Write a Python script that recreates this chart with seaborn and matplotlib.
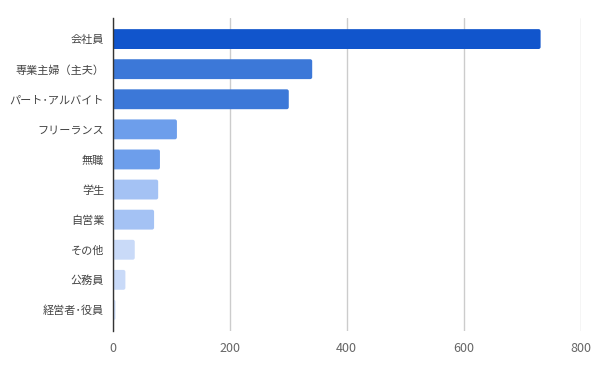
import matplotlib
matplotlib.use("Agg")
import pandas as pd
import seaborn as sns
from matplotlib import pyplot as plt
from matplotlib.patches import FancyBboxPatch

categories = ["会社員", "専業主婦（主夫）", "パート･アルバイト", "フリーランス", "無職",
              "学生", "自営業", "その他", "公務員", "経営者･役員"]
values = [731, 341, 301, 110, 81, 78, 71, 38, 22, 5]
bar_colors = ["#1155cc", "#3c78d8", "#3c78d8", "#6d9eeb", "#6d9eeb",
              "#a4c2f4", "#a4c2f4", "#c9daf8", "#c9daf8", "#c9daf8"]
x_ticks = [0, 200, 400, 600, 800]

df = pd.DataFrame({"category": categories, "value": values})

sns.set_theme(style="white")
plt.rcParams["font.family"] = ["Noto Sans CJK JP", "DejaVu Sans"]

fig = plt.figure(figsize=(6, 3.71), dpi=100)
ax = fig.add_axes([112.5 / 600, 1 - 331 / 371, (581 - 112.5) / 600, (331 - 18) / 371])

sns.barplot(data=df, x="value", y="category", hue="category", palette=bar_colors,
            legend=False, width=0.66, saturation=1, ax=ax)

ax.set_xlim(0, 800)
ax.set_ylim(9.7, -0.7)

# small rounded corners like the original
x_per_px = 800 / ax.bbox.width
y_per_px = 10.4 / ax.bbox.height
for bar in list(ax.patches):
    x, y = bar.get_x(), bar.get_y()
    w, h = bar.get_width(), bar.get_height()
    r = min(2 * x_per_px, w / 2)
    rounded = FancyBboxPatch((x, y), w, h, boxstyle=f"round,pad=0,rounding_size={r}",
                             mutation_aspect=y_per_px / x_per_px,
                             facecolor=bar.get_facecolor(), edgecolor="none")
    bar.remove()
    ax.add_patch(rounded)

ax.set_xticks(x_ticks)
ax.xaxis.grid(True, color="#cccccc", linewidth=1)
ax.set_axisbelow(True)
ax.set_xlabel("")
ax.set_ylabel("")
for side in ["top", "right", "bottom"]:
    ax.spines[side].set_visible(False)
ax.spines["left"].set_color("#333333")
ax.spines["left"].set_linewidth(1)
ax.spines["left"].set_zorder(5)
ax.tick_params(axis="y", length=0, pad=6, labelsize=8, labelcolor="#444444")
ax.tick_params(axis="x", length=0, pad=8, labelsize=9, labelcolor="#666666")

fig.savefig("out.png", dpi=100)
